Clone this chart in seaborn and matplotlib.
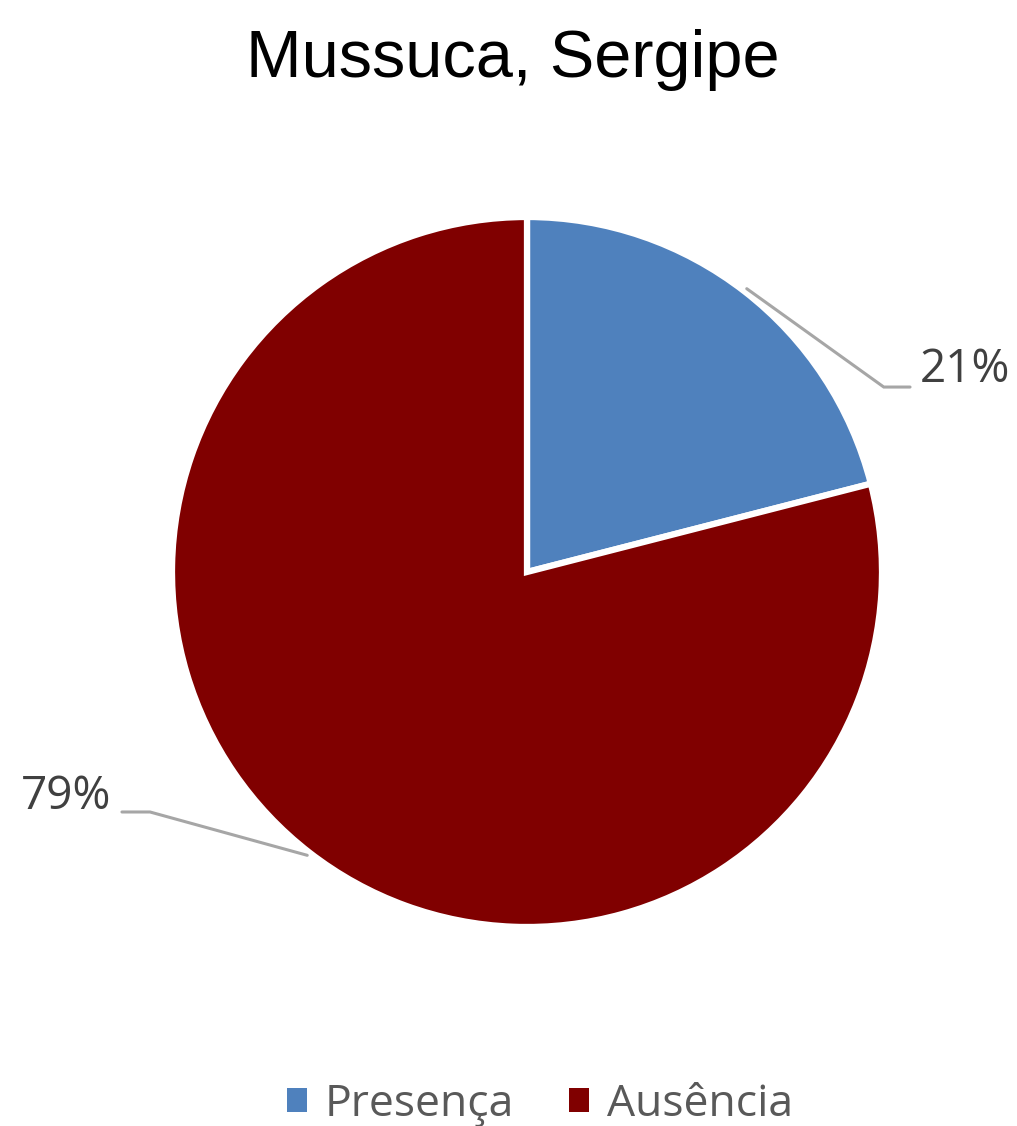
import numpy as np
import matplotlib
matplotlib.use("Agg")
import matplotlib.pyplot as plt
import seaborn as sns
from matplotlib.patches import Patch

# ---- data ----
categories = ["Presença", "Ausência"]
values = [21, 79]
colors = ["#4F81BD", "#800000"]
title = "Mussuca, Sergipe"

sns.set_theme(style="white")
plt.rcParams['font.family'] = ['Open Sans', 'DejaVu Sans']

W, H = 1017, 1126
fig = plt.figure(figsize=(W / 100, H / 100), dpi=100)
ax = fig.add_axes([0, 0, 1, 1])

wedges, _ = ax.pie(values, colors=colors, startangle=90, counterclock=False,
                   radius=1.0, center=(0, 0),
                   wedgeprops=dict(edgecolor='white', linewidth=4.5))

cx, cy, R = 527, 572, 355
ax.set_xlim(-cx / R, (W - cx) / R)
ax.set_ylim(-(H - cy) / R, cy / R)
ax.set_aspect('equal', adjustable='datalim')
ax.axis('off')

total = sum(values)
# leader line elbows / label anchors (layout, in axis units)
elbows = [(1.005, 0.521), (-1.062, -0.676)]
ends = [(1.079, 0.521), (-1.141, -0.676)]
label_pos = [(1.105, 0.569, 'left'), (-1.172, -0.633, 'right')]

cum = 0
for i, v in enumerate(values):
    mid = 90 - (cum + v / 2) / total * 360
    cum += v
    sx, sy = 1.01 * np.cos(np.radians(mid)), 1.01 * np.sin(np.radians(mid))
    ax.plot([sx, elbows[i][0], ends[i][0]], [sy, elbows[i][1], ends[i][1]],
            color='#A6A6A6', lw=2.2, solid_joinstyle='miter', zorder=5)
    lx, ly, ha = label_pos[i]
    ax.text(lx, ly, f"{round(v / total * 100)}%", ha=ha, va='center',
            fontsize=33, color='#404040')

fig.text(513 / W, 1 - 60 / H, title, ha='center', va='center',
         fontsize=48, color='black', family=['Liberation Sans', 'DejaVu Sans'])

handles = [Patch(facecolor=c, edgecolor='none') for c in colors]
leg = fig.legend(handles, categories, loc='center', bbox_to_anchor=(540 / W, 1 - 1105 / H),
                 ncol=2, frameon=False, fontsize=32, handlelength=0.45, handleheight=0.45,
                 handletextpad=0.4, columnspacing=1.25, labelcolor='#595959')

fig.savefig("out.png", dpi=100)
